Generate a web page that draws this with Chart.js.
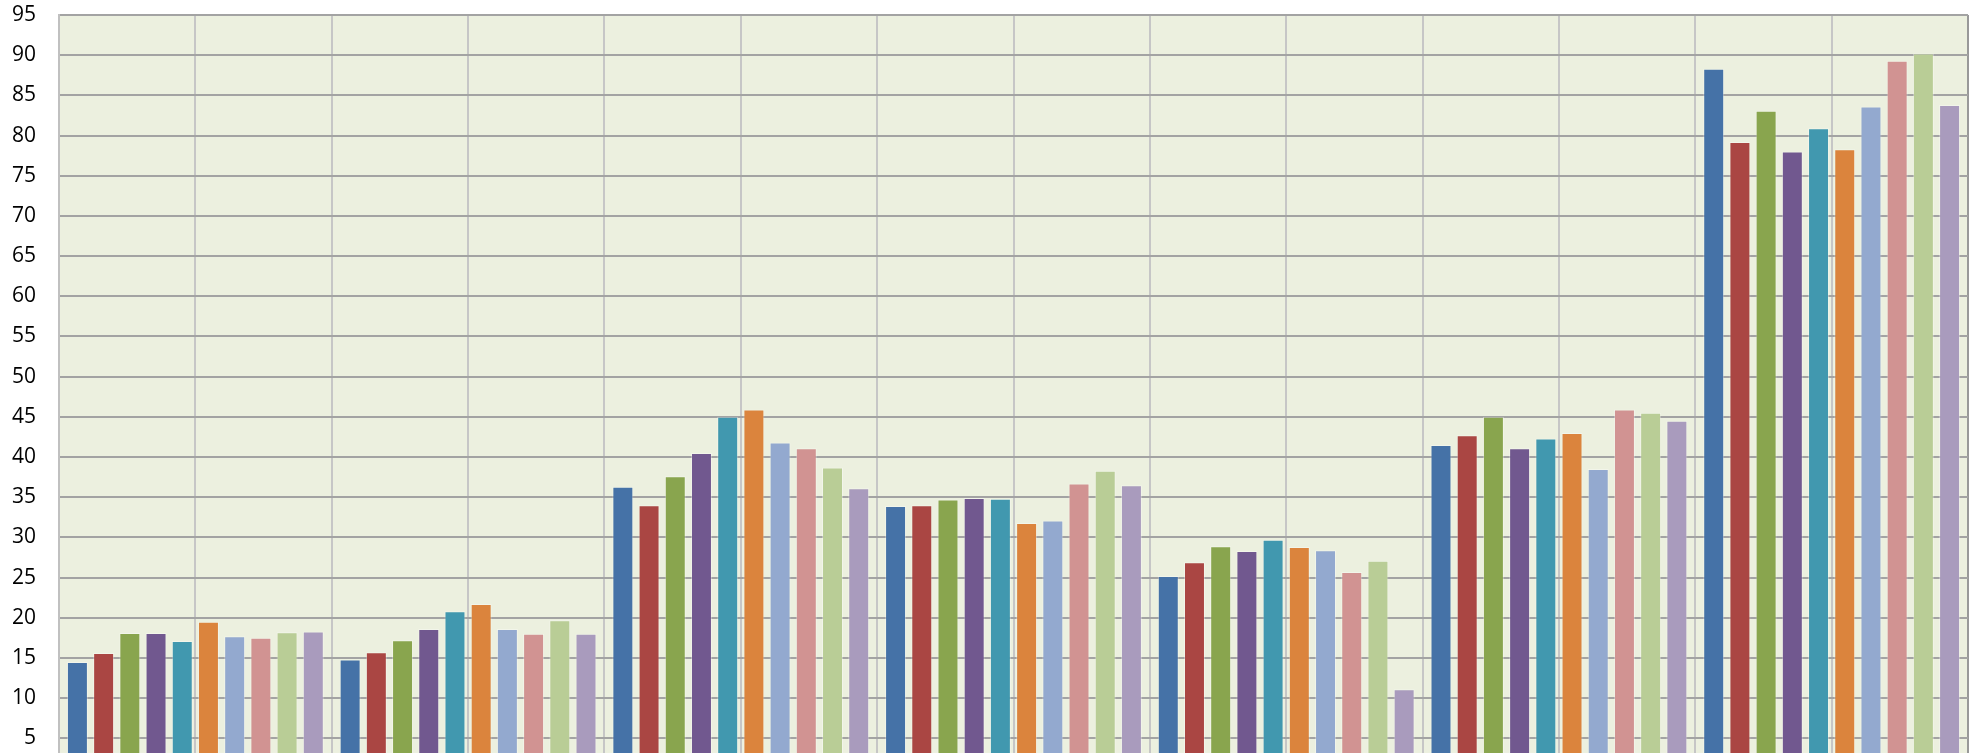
<!DOCTYPE html>
<html>
<head>
<meta charset="utf-8">
<script src="https://cdn.jsdelivr.net/npm/chart.js@4"></script>
<style>
    body { margin: 0; background: #fff; }
    #graph { width: 1974px; height: 753px; }
</style>
</head>
<body>
<div id="graph"><canvas id="myGraph" width="1974" height="753"></canvas></div>
<script>
const groups = ['1', '2', '3', '4', '5', '6', '7'];
const seriesNames = ['Series 1', 'Series 2', 'Series 3', 'Series 4', 'Series 5',
    'Series 6', 'Series 7', 'Series 8', 'Series 9', 'Series 10'];
const yTicks = [5, 10, 15, 20, 25, 30, 35, 40, 45, 50, 55, 60, 65, 70, 75, 80, 85, 90, 95];

const series1 = [14.5, 14.8, 36.3, 33.9, 25.2, 41.5, 88.3];
const series2 = [15.6, 15.7, 34.0, 34.0, 26.9, 42.7, 79.2];
const series3 = [18.1, 17.2, 37.6, 34.7, 28.9, 45.0, 83.1];
const series4 = [18.1, 18.6, 40.5, 34.9, 28.3, 41.1, 78.0];
const series5 = [17.1, 20.8, 45.0, 34.8, 29.7, 42.3, 80.9];
const series6 = [19.5, 21.7, 45.9, 31.8, 28.8, 43.0, 78.3];
const series7 = [17.7, 18.6, 41.8, 32.1, 28.4, 38.5, 83.6];
const series8 = [17.5, 18.0, 41.1, 36.7, 25.7, 45.9, 89.3];
const series9 = [18.2, 19.7, 38.7, 38.3, 27.1, 45.5, 90.2];
const series10 = [18.3, 18.0, 36.1, 36.5, 11.1, 44.5, 83.8];

const allSeries = [series1, series2, series3, series4, series5,
    series6, series7, series8, series9, series10];
const colors = ['#4572A7', '#AA4643', '#89A54E', '#71588F', '#4198AF',
    '#DB843D', '#93A9CF', '#D19392', '#B9CD96', '#A99BBD'];

// plot area background
const plotBg = {
    id: 'plotBg',
    beforeDraw(chart) {
        const { ctx, chartArea } = chart;
        ctx.save();
        ctx.fillStyle = '#ECF0DF';
        ctx.fillRect(chartArea.left, chartArea.top, chartArea.right - chartArea.left, chartArea.bottom - chartArea.top);
        ctx.restore();
    }
};

const ctx = document.getElementById('myGraph').getContext('2d');
const data = {
    labels: groups,
    datasets: allSeries.map((values, i) => ({
        label: seriesNames[i],
        data: values,
        backgroundColor: colors[i],
        borderColor: 'rgba(255,255,255,0.35)',
        borderWidth: 1,
        barPercentage: 0.8,
        categoryPercentage: 0.961,
    }))
};

let myBarChart = new Chart(ctx, {
    type: 'bar',
    data: data,
    plugins: [plotBg],
    options: {
        responsive: false,
        animation: false,
        devicePixelRatio: 1,
        layout: { padding: { top: 15, right: 6, bottom: 0, left: 0 } },
        plugins: {
            legend: { display: false },
            tooltip: { enabled: false },
        },
        scales: {
            x: {
                display: false,
            },
            // group borders and group centres
            x2: {
                type: 'linear',
                position: 'bottom',
                min: 0,
                max: 14,
                offset: false,
                grid: {
                    offset: false,
                    drawTicks: false,
                    lineWidth: 2,
                    color: (c) => c.index === 14 ? '#999999' : '#C6C6C6',
                },
                border: { display: false },
                ticks: { display: false, stepSize: 1 },
                afterFit: (scale) => { scale.height = 0; },
            },
            y: {
                min: 3.17,
                max: 95,
                afterBuildTicks: (scale) => {
                    scale.ticks = yTicks.map(v => ({ value: v }));
                },
                afterFit: (scale) => {
                    scale.width = 59;
                    scale.paddingTop = 0;
                    scale.paddingBottom = 0;
                },
                grid: {
                    drawTicks: false,
                    lineWidth: 2,
                    color: '#A3A3A3',
                },
                border: { display: true, color: '#C0C0C0', width: 2 },
                ticks: {
                    padding: 23,
                    color: '#000',
                    font: { family: 'Open Sans', size: 21 },
                },
            },
        },
    },
});
</script>
</body>
</html>
